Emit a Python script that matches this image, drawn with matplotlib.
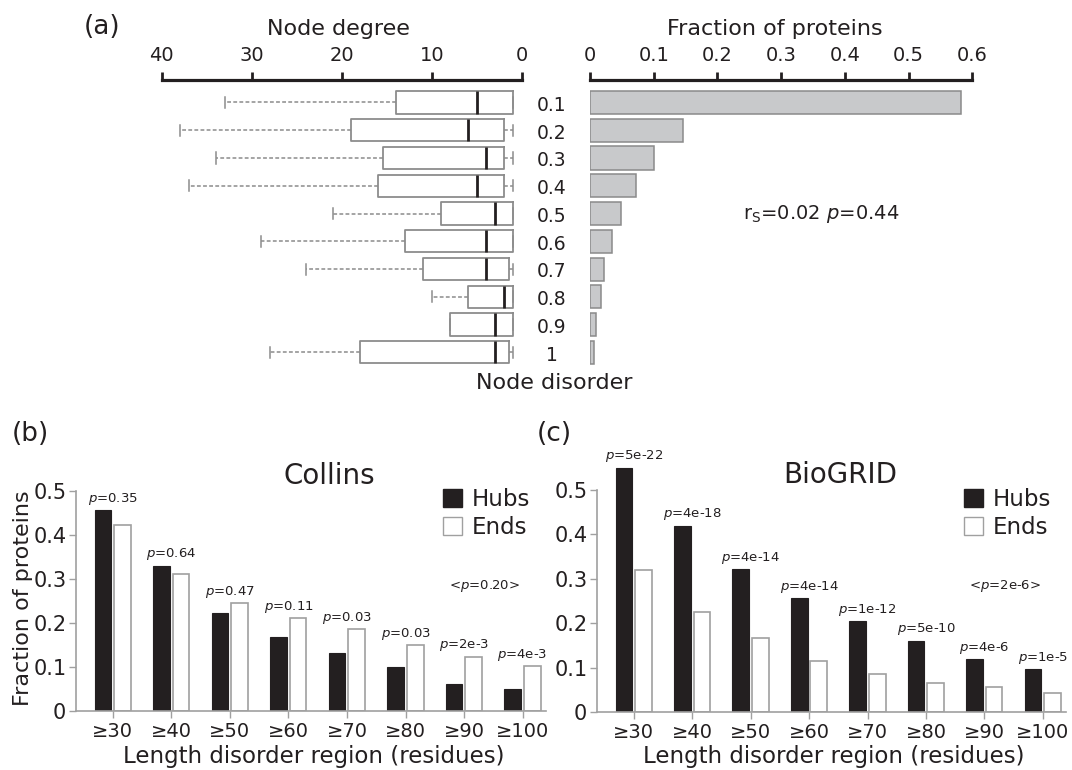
import matplotlib
matplotlib.use("Agg")
import matplotlib.pyplot as plt
from matplotlib.patches import Patch
import numpy as np

plt.rcParams['font.family'] = ['DejaVu Sans']
plt.rcParams['mathtext.fontset'] = 'dejavusans'
plt.rcParams['text.color'] = '#231f20'

# (a) node degree by node disorder, and fraction of proteins per disorder bin
disorder_labels = ['0.1', '0.2', '0.3', '0.4', '0.5', '0.6', '0.7', '0.8', '0.9', '1']
deg_whislo = [1, 1, 1, 1, 1, 1, 1, 1, 1, 1]
deg_q1 = [1, 2, 2, 2, 1, 1, 1.5, 1, 1, 1.5]
deg_med = [5, 6, 4, 5, 3, 4, 4, 2, 3, 3]
deg_q3 = [14, 19, 15.5, 16, 9, 13, 11, 6, 8, 18]
deg_whishi = [33, 38, 34, 37, 21, 29, 24, 10, 8, 28]
frac_proteins = [0.582, 0.146, 0.100, 0.072, 0.048, 0.034, 0.022, 0.017, 0.010, 0.006]

# (b), (c) hubs vs ends by length of disordered region
length_labels = ['≥30', '≥40', '≥50', '≥60', '≥70', '≥80', '≥90', '≥100']
collins_hubs = [0.455, 0.329, 0.222, 0.168, 0.131, 0.100, 0.062, 0.051]
collins_ends = [0.423, 0.312, 0.245, 0.210, 0.186, 0.149, 0.123, 0.102]
collins_p = ['0.35', '0.64', '0.47', '0.11', '0.03', '0.03', '2e-3', '4e-3']
biogrid_hubs = [0.550, 0.420, 0.322, 0.256, 0.204, 0.160, 0.119, 0.096]
biogrid_ends = [0.320, 0.225, 0.166, 0.115, 0.085, 0.065, 0.056, 0.042]
biogrid_p = ['5e-22', '4e-18', '4e-14', '4e-14', '1e-12', '5e-10', '4e-6', '1e-5']

W, H = 1072, 770
fig = plt.figure(figsize=(W / 100, H / 100), dpi=100)
DARK = '#231f20'
GREY = '#8c8c8c'
LIGHT = '#a0a0a0'


def add_axes_px(left, top, right, bottom):
    return fig.add_axes([left / W, 1 - bottom / H, (right - left) / W, (bottom - top) / H])


def fig_text(x, y, s, **kw):
    fig.text(x / W, 1 - y / H, s, **kw)


rows = np.arange(1, len(disorder_labels) + 1)

# --- (a) left: boxplots of node degree
ax_deg = add_axes_px(161.7, 80, 522.3, 369)
stats = []
for lo, q1, med, q3, hi in zip(deg_whislo, deg_q1, deg_med, deg_q3, deg_whishi):
    stats.append(dict(whislo=lo, q1=q1, med=med, q3=q3, whishi=hi, fliers=[]))
ax_deg.bxp(stats, positions=rows, widths=0.8, orientation='horizontal',
           showfliers=False, manage_ticks=False,
           boxprops=dict(color=GREY, linewidth=1.3),
           medianprops=dict(color=DARK, linewidth=2),
           whiskerprops=dict(color=GREY, linewidth=1.1, linestyle=(0, (2.5, 1.5))),
           capprops=dict(color=GREY, linewidth=1.1))
ax_deg.set_xlim(40, 0)
ax_deg.set_ylim(10.6, 0.19)

# --- (a) right: fraction of proteins
ax_frac = add_axes_px(590, 80, 972.3, 369)
ax_frac.barh(rows, frac_proteins, height=0.83, color='#c8c9cb',
             edgecolor='#8a8a8a', linewidth=1.1)
ax_frac.set_xlim(0, 0.6)
ax_frac.set_ylim(10.6, 0.19)
ax_frac.set_xticks(np.arange(0, 0.61, 0.1))
ax_frac.set_xticklabels(['0', '0.1', '0.2', '0.3', '0.4', '0.5', '0.6'])

for ax in (ax_deg, ax_frac):
    for side in ('left', 'right', 'bottom'):
        ax.spines[side].set_visible(False)
    ax.spines['top'].set_linewidth(2.3)
    ax.spines['top'].set_color(DARK)
    ax.set_yticks([])
    ax.xaxis.tick_top()
    ax.tick_params(axis='x', direction='out', length=6, width=2, color=DARK,
                   labelsize=14, pad=4.5, labelcolor=DARK)
    ax.patch.set_visible(False)
ax_deg.set_xticks([40, 30, 20, 10, 0])

for r, lab in zip(rows, disorder_labels):
    ax_frac.text(-0.06, r + 0.1, lab, ha='center', va='center', fontsize=13.5,
                 clip_on=False)
ax_frac.text(0.24, 5.0, r'r$_\mathrm{S}$=0.02 $p$=0.44', ha='left', va='center',
             fontsize=14)

fig_text(338, 29, 'Node degree', ha='center', va='center', fontsize=16)
fig_text(775, 29, 'Fraction of proteins', ha='center', va='center', fontsize=16)
fig_text(554, 383, 'Node disorder', ha='center', va='center', fontsize=16)


# --- (b), (c) grouped bars
def grouped(ax, hubs, ends, pvals, title, title_x, overall):
    x = np.arange(len(length_labels))
    ax.bar(x - 0.17, hubs, width=0.285, color=DARK, edgecolor=DARK,
           linewidth=0.8, label='Hubs')
    ax.bar(x + 0.165, ends, width=0.285, color='white', edgecolor=LIGHT,
           linewidth=1.2, label='Ends')
    for xi, h, e, p in zip(x, hubs, ends, pvals):
        ax.text(xi, max(h, e) + 0.008, f'$p$={p}', ha='center', va='bottom',
                fontsize=9.5, clip_on=False)
    ax.set_xlim(-0.63, 7.4)
    ax.set_ylim(0, 0.6)
    ax.set_xticks(x)
    ax.set_xticklabels(length_labels)
    ax.set_yticks([0, 0.1, 0.2, 0.3, 0.4, 0.5])
    ax.set_yticklabels(['0', '0.1', '0.2', '0.3', '0.4', '0.5'])
    for side in ('top', 'right'):
        ax.spines[side].set_visible(False)
    for side in ('left', 'bottom'):
        ax.spines[side].set_color(LIGHT)
        ax.spines[side].set_linewidth(1.2)
    ax.spines['left'].set_bounds(0, 0.5)
    ax.tick_params(axis='y', length=5, width=1, color=LIGHT, labelsize=15,
                   pad=2, labelcolor=DARK)
    ax.tick_params(axis='x', length=5, width=1, color=LIGHT, labelsize=14,
                   pad=3, labelcolor=DARK)
    ax.text(title_x, 0.534, title, ha='center', va='center', fontsize=20)
    ax.text(6.35, 0.284, f'<$p$={overall}>', ha='center', va='center', fontsize=9.5)
    ax.patch.set_visible(False)


ax_b = add_axes_px(76, 446.6, 546, 711)
grouped(ax_b, collins_hubs, collins_ends, collins_p, 'Collins', 3.69, '0.20')
ax_c = add_axes_px(597, 445.7, 1066.3, 712)
grouped(ax_c, biogrid_hubs, biogrid_ends, biogrid_p, 'BioGRID', 3.54, '2e-6')

for ax, lx in ((ax_b, 443), (ax_c, 964)):
    handles = [Patch(facecolor=DARK, edgecolor=DARK, label='Hubs'),
               Patch(facecolor='white', edgecolor=LIGHT, label='Ends')]
    ax.legend(handles=handles, loc='upper left',
              bbox_to_anchor=(lx / W, 1 - 488 / H), bbox_transform=fig.transFigure,
              frameon=False, fontsize=16.5, handlelength=0.82, handleheight=0.85,
              handletextpad=0.45, labelspacing=0.2, borderpad=0, borderaxespad=0)

fig_text(23, 598, 'Fraction of proteins', ha='center', va='center', fontsize=16,
         rotation=90)
fig_text(314, 757, 'Length disorder region (residues)', ha='center', va='center',
         fontsize=16.5)
fig_text(834, 757, 'Length disorder region (residues)', ha='center', va='center',
         fontsize=16.5)

fig_text(102, 27, '(a)', ha='center', va='center', fontsize=19)
fig_text(30, 434, '(b)', ha='center', va='center', fontsize=19)
fig_text(554, 434, '(c)', ha='center', va='center', fontsize=19)

fig.savefig('out.png', dpi=100, facecolor='white')
